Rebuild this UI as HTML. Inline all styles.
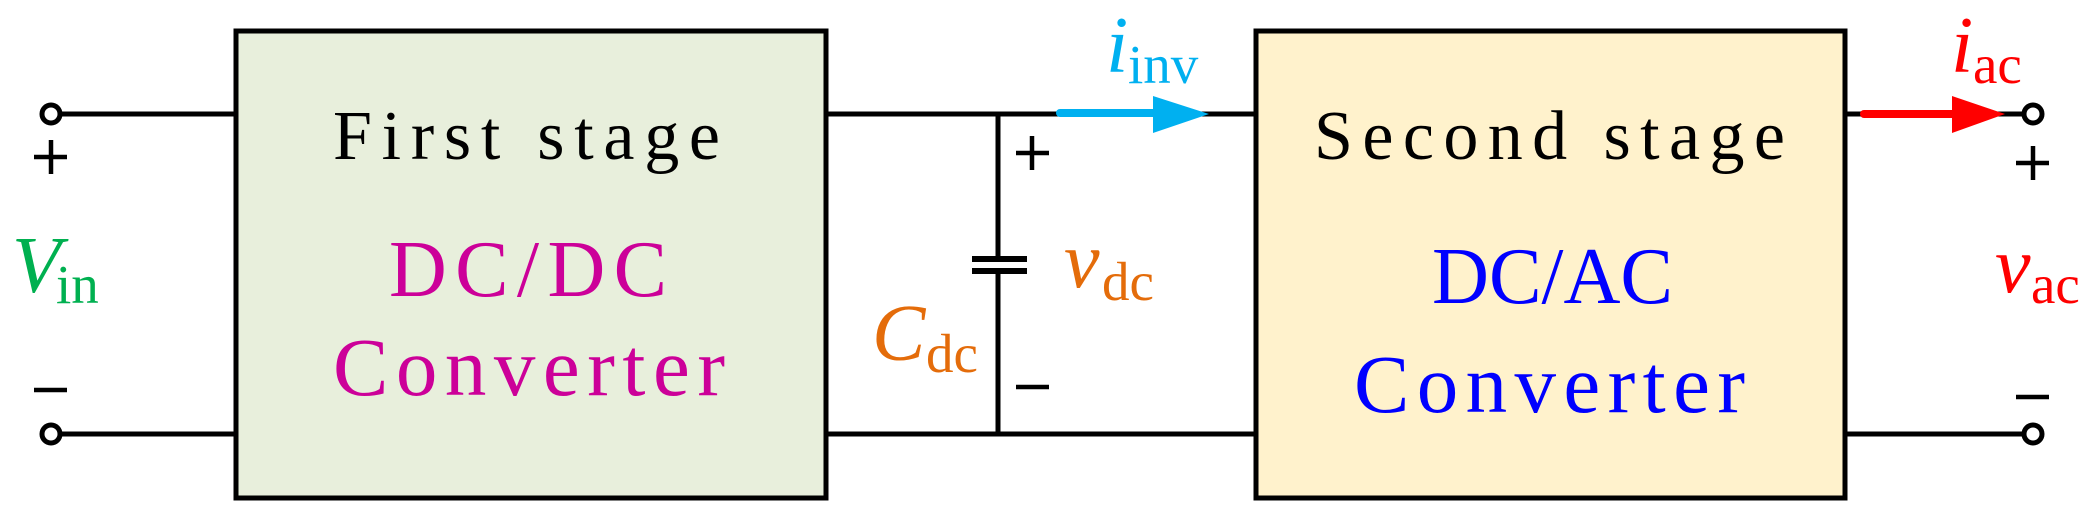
<!DOCTYPE html>
<html><head><style>html,body{margin:0;padding:0;background:#fff}svg{display:block}</style></head>
<body>
<svg width="2088" height="521" viewBox="0 0 2088 521" xmlns="http://www.w3.org/2000/svg" font-family="'Liberation Serif', serif">
<g stroke="#000" stroke-width="5" fill="none">
<line x1="60" y1="114" x2="236" y2="114"/>
<line x1="60" y1="434" x2="236" y2="434"/>
<line x1="826" y1="114" x2="1256" y2="114"/>
<line x1="826" y1="434" x2="1256" y2="434"/>
<line x1="1845" y1="114" x2="2024" y2="114"/>
<line x1="1845" y1="434" x2="2024" y2="434"/>
<line x1="998" y1="114" x2="998" y2="259"/>
<line x1="998" y1="271" x2="998" y2="434"/>
<line x1="972" y1="259" x2="1027" y2="259" stroke-width="6"/>
<line x1="972" y1="271" x2="1027" y2="271" stroke-width="6"/>
</g>
<rect x="236" y="31" width="590" height="467" fill="#E8EFDC" stroke="#000" stroke-width="5"/>
<rect x="1256" y="31" width="589" height="467" fill="#FFF2CC" stroke="#000" stroke-width="5"/>
<g stroke="#000" stroke-width="5" fill="#fff">
<circle cx="51" cy="114" r="9"/><circle cx="51" cy="434" r="9"/>
<circle cx="2033" cy="114" r="9"/><circle cx="2033" cy="434" r="9"/>
</g>
<g stroke="#000" stroke-width="4.5">
<line x1="34" y1="157" x2="67" y2="157"/><line x1="51" y1="140" x2="51" y2="174"/>
<line x1="34" y1="390" x2="67" y2="390"/>
<line x1="1016" y1="153" x2="1049" y2="153"/><line x1="1032" y1="136" x2="1032" y2="170"/>
<line x1="1016" y1="387" x2="1049" y2="387"/>
<line x1="2016" y1="163" x2="2049" y2="163"/><line x1="2033" y1="146" x2="2033" y2="180"/>
<line x1="2016" y1="397" x2="2049" y2="397"/>
</g>
<line x1="1060" y1="113" x2="1156" y2="113" stroke="#00B0F0" stroke-width="8" stroke-linecap="round"/>
<polygon points="1153,96 1209,114 1153,133" fill="#00B0F0"/>
<line x1="1864" y1="114" x2="1955" y2="114" stroke="#FF0000" stroke-width="8" stroke-linecap="round"/>
<polygon points="1952,96 2005,114 1952,133" fill="#FF0000"/>
<text x="333" y="159" font-size="70" textLength="387" lengthAdjust="spacing">First stage</text>
<text x="389" y="296" font-size="80" fill="#CC0099" textLength="278" lengthAdjust="spacing">DC/DC</text>
<text x="333" y="395" font-size="83" fill="#CC0099" textLength="392" lengthAdjust="spacing">Converter</text>
<text x="1314" y="159" font-size="70" textLength="471" lengthAdjust="spacing">Second stage</text>
<text x="1432" y="303" font-size="80" fill="#0000FF" textLength="241" lengthAdjust="spacingAndGlyphs">DC/AC</text>
<text x="1354" y="412" font-size="83" fill="#0000FF" textLength="391" lengthAdjust="spacing">Converter</text>
<text x="12" y="292" font-size="80" font-style="italic" fill="#00B050">V</text>
<text x="56" y="303" font-size="55" fill="#00B050">in</text>
<text x="872" y="360" font-size="80" font-style="italic" fill="#E46C0A">C</text>
<text x="926" y="372" font-size="55" fill="#E46C0A">dc</text>
<text x="1064" y="287" font-size="80" font-style="italic" fill="#E46C0A">v</text>
<text x="1102" y="300" font-size="55" fill="#E46C0A">dc</text>
<text x="1995" y="292" font-size="80" font-style="italic" fill="#FF0000">v</text>
<text x="2031" y="303" font-size="55" fill="#FF0000">ac</text>
<text x="1106" y="72" font-size="80" font-style="italic" fill="#00B0F0">i</text>
<text x="1128" y="83" font-size="55" fill="#00B0F0">inv</text>
<text x="1951" y="72" font-size="80" font-style="italic" fill="#FF0000">i</text>
<text x="1973" y="83" font-size="55" fill="#FF0000">ac</text>
</svg>
</body></html>
